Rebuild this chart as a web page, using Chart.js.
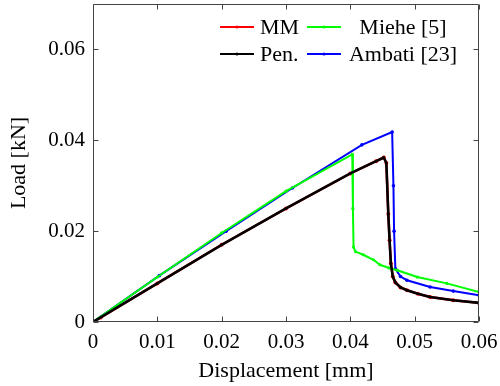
<!DOCTYPE html>
<html>
<head>
<meta charset="utf-8">
<script src="https://cdn.jsdelivr.net/npm/chart.js@4.4.1/dist/chart.umd.min.js"></script>
<style>
  html, body { margin: 0; padding: 0; background: #fff; }
  canvas { display: block; }
</style>
</head>
<body>
<canvas id="chart" width="500" height="386"></canvas>
<script>
// tick labels
const xTicks = [0, 0.01, 0.02, 0.03, 0.04, 0.05, 0.06];
const yTicks = [0, 0.02, 0.04, 0.06];

// MM (red) and Pen. (black) - nearly identical curves
const mmX = [0, 0.0012, 0.01, 0.02, 0.03, 0.04, 0.044, 0.0452, 0.0456, 0.0459, 0.0461, 0.0463, 0.0466, 0.047, 0.0478, 0.0488, 0.0505, 0.0524, 0.056, 0.06];
const mmY = [0, 0.0010, 0.0085, 0.0170, 0.0250, 0.0327, 0.0354, 0.0362, 0.0350, 0.0238, 0.0180, 0.0129, 0.0100, 0.0087, 0.0076, 0.0070, 0.0062, 0.0055, 0.0048, 0.0042];
const penX = [0, 0.01, 0.02, 0.03, 0.04, 0.044, 0.0452, 0.0456, 0.0459, 0.0461, 0.0463, 0.0466, 0.047, 0.0478, 0.0488, 0.0505, 0.0524, 0.056, 0.06];
const penY = [0, 0.0085, 0.0170, 0.0250, 0.0327, 0.0354, 0.0362, 0.0350, 0.0238, 0.0180, 0.0129, 0.0100, 0.0087, 0.0076, 0.0070, 0.0062, 0.0055, 0.0048, 0.0042];

// Miehe [5] (green)
const mieheX = [0, 0.01, 0.02, 0.03, 0.0403, 0.0404, 0.0405, 0.0408, 0.042, 0.0436, 0.0446, 0.046, 0.0473, 0.0504, 0.055, 0.06];
const mieheY = [0, 0.0099, 0.0196, 0.0288, 0.0369, 0.0250, 0.0165, 0.0155, 0.0148, 0.0137, 0.0126, 0.0119, 0.0114, 0.0099, 0.0085, 0.0066];

// Ambati [23] (blue)
const ambatiX = [0, 0.0103, 0.0207, 0.031, 0.0418, 0.0465, 0.0467, 0.0468, 0.047, 0.0478, 0.0488, 0.0524, 0.056, 0.06];
const ambatiY = [0, 0.0102, 0.0200, 0.0295, 0.0390, 0.0418, 0.0300, 0.0200, 0.0117, 0.0100, 0.0092, 0.0077, 0.0068, 0.0059];

const toPts = (xs, ys) => xs.map((x, i) => ({ x: x, y: ys[i] }));

const serif = "'Liberation Serif', 'Times New Roman', serif";

const mkSet = (label, xs, ys, color, width, radius, order) => ({
  label: label,
  data: toPts(xs, ys),
  showLine: true,
  borderColor: color,
  backgroundColor: color,
  borderWidth: width,
  pointRadius: radius,
  pointBorderWidth: 0,
  pointBackgroundColor: color,
  tension: 0,
  order: order
});

// axis box with inward ticks, like pgfplots
const framePlugin = {
  id: 'frame',
  afterDatasetsDraw(chart) {
    const { ctx, chartArea: a, scales } = chart;
    ctx.save();
    ctx.strokeStyle = '#444';
    ctx.lineWidth = 1;
    const L = Math.round(a.left) + 0.5, R = Math.round(a.right) - 0.5;
    const T = Math.round(a.top) + 0.5, B = Math.round(a.bottom) - 0.5;
    ctx.beginPath();
    ctx.rect(L, T, R - L, B - T);
    xTicks.forEach(v => {
      const px = Math.round(scales.x.getPixelForValue(v)) + 0.5;
      ctx.moveTo(px, B); ctx.lineTo(px, B - 5);
      ctx.moveTo(px, T); ctx.lineTo(px, T + 5);
    });
    yTicks.forEach(v => {
      const py = Math.round(scales.y.getPixelForValue(v)) + 0.5;
      ctx.moveTo(L, py); ctx.lineTo(L + 5, py);
      ctx.moveTo(R, py); ctx.lineTo(R - 5, py);
    });
    ctx.stroke();
    ctx.restore();
  }
};

// two-column legend in the top right
const legendPlugin = {
  id: 'legend2',
  afterDraw(chart) {
    const { ctx } = chart;
    const ds = chart.data.datasets;
    // legend order: MM, Miehe / Pen., Ambati
    const cells = [
      { d: ds[0], lx: 220, ty: 27, tx: 260, align: 'left' },
      { d: ds[1], lx: 307, ty: 27, tx: 403, align: 'center' },
      { d: ds[2], lx: 220, ty: 54, tx: 260, align: 'left' },
      { d: ds[3], lx: 307, ty: 54, tx: 403, align: 'center' }
    ];
    ctx.save();
    ctx.font = '22px ' + serif;
    ctx.textBaseline = 'middle';
    cells.forEach(c => {
      ctx.strokeStyle = c.d.borderColor;
      ctx.lineWidth = 1.8;
      ctx.beginPath();
      ctx.moveTo(c.lx, c.ty);
      ctx.lineTo(c.lx + 34, c.ty);
      ctx.stroke();
      ctx.fillStyle = c.d.borderColor;
      ctx.beginPath();
      ctx.arc(c.lx + 17, c.ty, 1.6, 0, Math.PI * 2);
      ctx.fill();
      ctx.fillStyle = '#000';
      ctx.textAlign = c.align;
      ctx.fillText(c.d.label, c.tx, c.ty + 1);
    });
    ctx.restore();
  }
};

const fmt = v => (v === 0 ? '0' : v.toFixed(2));

new Chart(document.getElementById('chart').getContext('2d'), {
  type: 'scatter',
  data: {
    datasets: [
      mkSet('MM', mmX, mmY, '#ff0000', 2.4, 2, 3),
      mkSet('Miehe [5]', mieheX, mieheY, '#00ff00', 2, 1.6, 1),
      mkSet('Pen.', penX, penY, '#000000', 2.6, 1.2, 0),
      mkSet('Ambati [23]', ambatiX, ambatiY, '#0000ff', 2, 1.8, 2)
    ]
  },
  options: {
    responsive: false,
    animation: false,
    devicePixelRatio: 1,
    layout: { padding: { top: 3, right: 21, left: 0, bottom: 0 } },
    plugins: {
      legend: { display: false },
      tooltip: { enabled: false }
    },
    scales: {
      x: {
        type: 'linear',
        min: 0,
        max: 0.06,
        afterBuildTicks: s => { s.ticks = xTicks.map(v => ({ value: v })); },
        afterFit: s => { s.height = 64; s.paddingLeft = 0; s.paddingRight = 0; },
        grid: { display: false, drawTicks: false },
        border: { display: false },
        ticks: {
          color: '#000',
          font: { family: serif, size: 21 },
          padding: 8,
          maxRotation: 0,
          autoSkip: false,
          callback: v => fmt(v)
        },
        title: {
          display: true,
          text: 'Displacement [mm]',
          color: '#000',
          font: { family: serif, size: 22 },
          padding: { top: 0, bottom: 2 }
        }
      },
      y: {
        type: 'linear',
        min: 0,
        max: 0.07,
        afterBuildTicks: s => { s.ticks = yTicks.map(v => ({ value: v })); },
        afterFit: s => { s.width = 93; s.paddingTop = 0; s.paddingBottom = 0; },
        grid: { display: false, drawTicks: false },
        border: { display: false },
        ticks: {
          color: '#000',
          font: { family: serif, size: 21 },
          padding: 8,
          callback: v => fmt(v)
        },
        title: {
          display: true,
          text: 'Load [kN]',
          color: '#000',
          font: { family: serif, size: 22 },
          padding: { top: 6, bottom: 0 }
        }
      }
    }
  },
  plugins: [framePlugin, legendPlugin]
});
</script>
</body>
</html>
